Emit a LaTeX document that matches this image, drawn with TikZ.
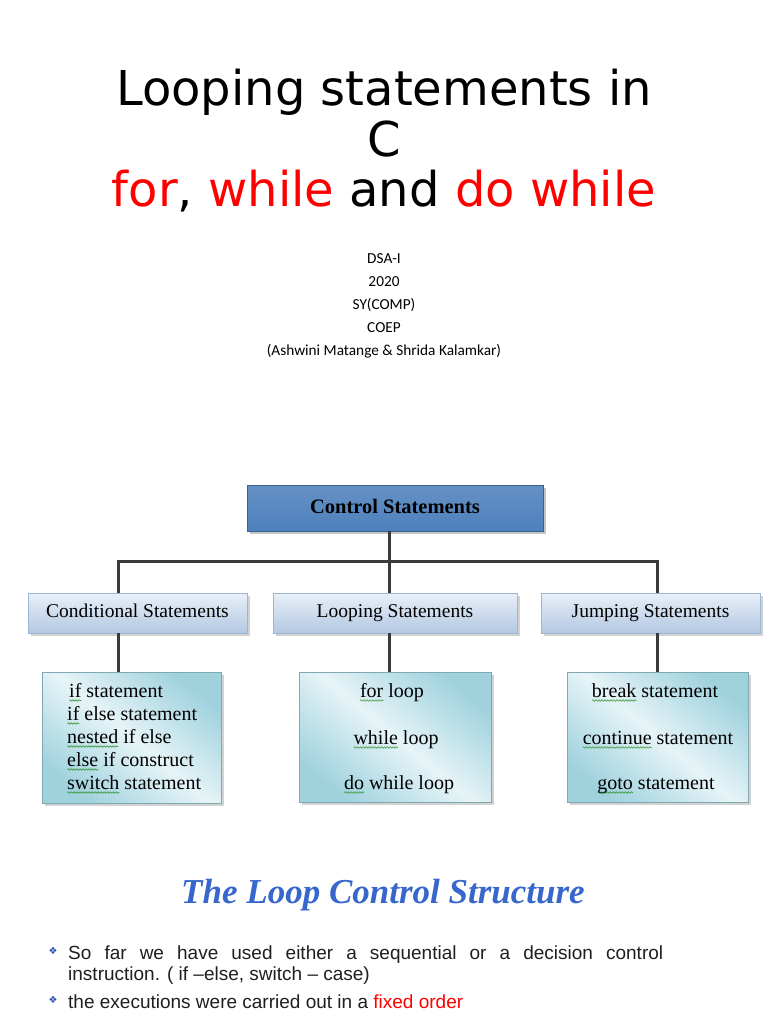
\documentclass[tikz,border=0pt]{standalone}
\usepackage{fontspec}
\setmainfont{Liberation Serif}
\newfontfamily\titlefont{DejaVu Sans}
\newfontfamily\subfont{Carlito}
\newfontfamily\bodyfont{Liberation Sans}
\newfontfamily\symfont{DejaVu Sans}
\usetikzlibrary{shadows,decorations.pathmorphing}
\definecolor{ctrlblue}{HTML}{4F81BD}
\definecolor{rowtop}{HTML}{E9F0F8}
\definecolor{rowbot}{HTML}{B3C8E2}
\definecolor{rowline}{HTML}{9DB5D5}
\definecolor{cyanedge}{HTML}{A0D2DE}
\definecolor{cyanmid}{HTML}{E6F4F7}
\definecolor{headblue}{HTML}{3766CC}
\definecolor{bulletblue}{HTML}{2E4FB0}
\definecolor{squig}{HTML}{3C9A3C}
\definecolor{connc}{HTML}{3A3A3A}
\newlength\sqwidth
\newcommand\sq[1]{\settowidth\sqwidth{#1}\tikz[overlay,baseline=0pt]\draw[squig,line width=0.6pt,decorate,decoration={snake,amplitude=0.8pt,segment length=3pt}] (0pt,-3.5pt) -- (\sqwidth,-3.5pt);#1}
\tikzset{
  ttl/.style={font=\titlefont\fontsize{48}{58}\selectfont, inner sep=0pt, anchor=base},
  subt/.style={font=\subfont\fontsize{15.3}{17}\selectfont, inner sep=0pt, anchor=base},
  ctrlbox/.style={draw=ctrlblue!75!black, line width=0.6pt, top color=ctrlblue!88!white, bottom color=ctrlblue,
    minimum width=296pt, minimum height=46pt, inner sep=0pt, text height=14pt, text depth=4pt,
    drop shadow={shadow xshift=2.5pt, shadow yshift=-2.5pt, fill=black!45},
    font=\bfseries\fontsize{20.5}{22}\selectfont},
  rowbox/.style={draw=rowline, line width=0.6pt, top color=rowtop, bottom color=rowbot,
    minimum height=40pt, inner sep=0pt, text height=14pt, text depth=5pt,
    drop shadow={shadow xshift=2.5pt, shadow yshift=-2.5pt, fill=black!35},
    font=\fontsize{19.5}{22}\selectfont},
  listbox/.style={draw=cyanedge!80!black, line width=0.6pt, left color=cyanedge, right color=cyanedge, middle color=cyanmid,
    shading angle=-40, inner sep=0pt,
    drop shadow={shadow xshift=2.5pt, shadow yshift=-2.5pt, fill=black!35}},
  item/.style={font=\fontsize{20}{22}\selectfont, inner sep=0pt, anchor=base},
  conn/.style={draw=connc, line width=3pt},
  body/.style={font=\bodyfont\fontsize{19}{22}\selectfont, inner sep=0pt, anchor=base west, text=black!88},
  bul/.style={font=\symfont\fontsize{10}{11}\selectfont, text=bulletblue, inner sep=0pt}
}
\begin{document}
\begin{tikzpicture}[x=1pt,y=-1pt]
\useasboundingbox (0,0) rectangle (768,1024);
\fill[white] (0,0) rectangle (768,1024);

% title
\node[ttl] (t1) at (384,106) {Looping statements in};
\node[ttl] (t2) at (384,157) {C};
\node[ttl] (t3) at (384,207) {\textcolor{red}{for}, \textcolor{red}{while} and \textcolor{red}{do while}};

% subtitle
\node[subt] (s1) at (384,263) {DSA-I};
\node[subt] (s2) at (384,286) {2020};
\node[subt] (s3) at (384,309) {SY(COMP)};
\node[subt] (s4) at (384,332) {COEP};
\node[subt] (s5) at (384,355) {(Ashwini Matange \& Shrida Kalamkar)};

% chart
\node[ctrlbox] (ctrl) at (395,508) {Control Statements};
\node[rowbox, minimum width=219pt] (cond) at (137.5,613) {Conditional Statements};
\node[rowbox, minimum width=244pt] (loopst) at (395,613) {Looping Statements};
\node[rowbox, minimum width=219pt] (jump) at (650.5,613) {Jumping Statements};

\node[listbox, minimum width=179pt, minimum height=131pt] (box1) at (131.5,737.5) {};
\node[listbox, minimum width=192pt, minimum height=130pt] (box2) at (395,737) {};
\node[listbox, minimum width=181pt, minimum height=130pt] (box3) at (657.5,737) {};

\coordinate (j1) at (118,561);
\coordinate (j2) at (389,561);
\coordinate (j3) at (657,561);
\draw[conn] (ctrl.south -| j2) -- (j2);
\draw[conn] (j1 |- cond.north) -- (j1) -- (j3) -- (j3 |- jump.north);
\draw[conn] (j2) -- (j2 |- loopst.north);
\draw[conn] (j1 |- cond.south) -- (j1 |- box1.north);
\draw[conn] (j2 |- loopst.south) -- (j2 |- box2.north);
\draw[conn] (j3 |- jump.south) -- (j3 |- box3.north);

% list texts
\node[item, anchor=base west] (a1) at (69,697) {\sq{if} statement};
\node[item, anchor=base west] (a2) at (67,720) {\sq{if} else statement};
\node[item, anchor=base west] (a3) at (67,743) {\sq{nested} if else};
\node[item, anchor=base west] (a4) at (67,766) {\sq{else} if construct};
\node[item, anchor=base west] (a5) at (67,789) {\sq{switch} statement};

\node[item] (b1) at (392,697) {\sq{for} loop};
\node[item] (b2) at (396,744) {\sq{while} loop};
\node[item] (b3) at (399,789) {\sq{do} while loop};

\node[item] (c1) at (655,697) {\sq{break} statement};
\node[item] (c2) at (658,744) {\sq{continue} statement};
\node[item] (c3) at (656,789) {\sq{goto} statement};

% heading
\node[font=\bfseries\itshape\fontsize{35}{40}\selectfont, text=headblue, inner sep=0pt, anchor=base] (head) at (383,903) {The Loop Control Structure};

% bullets
\node[bul] (u1) at (53,951) {❖};
\node[body] (l1) at (68,959) {\makebox[595pt][s]{So far we have used either a sequential or a decision control}};
\node[body] (l2) at (68,980) {instruction. ( if –else, switch – case)};
\node[bul] (u2) at (53,1000) {❖};
\node[body] (l3) at (68,1008) {the executions were carried out in a \textcolor{red}{fixed order}};
\end{tikzpicture}
\end{document}
